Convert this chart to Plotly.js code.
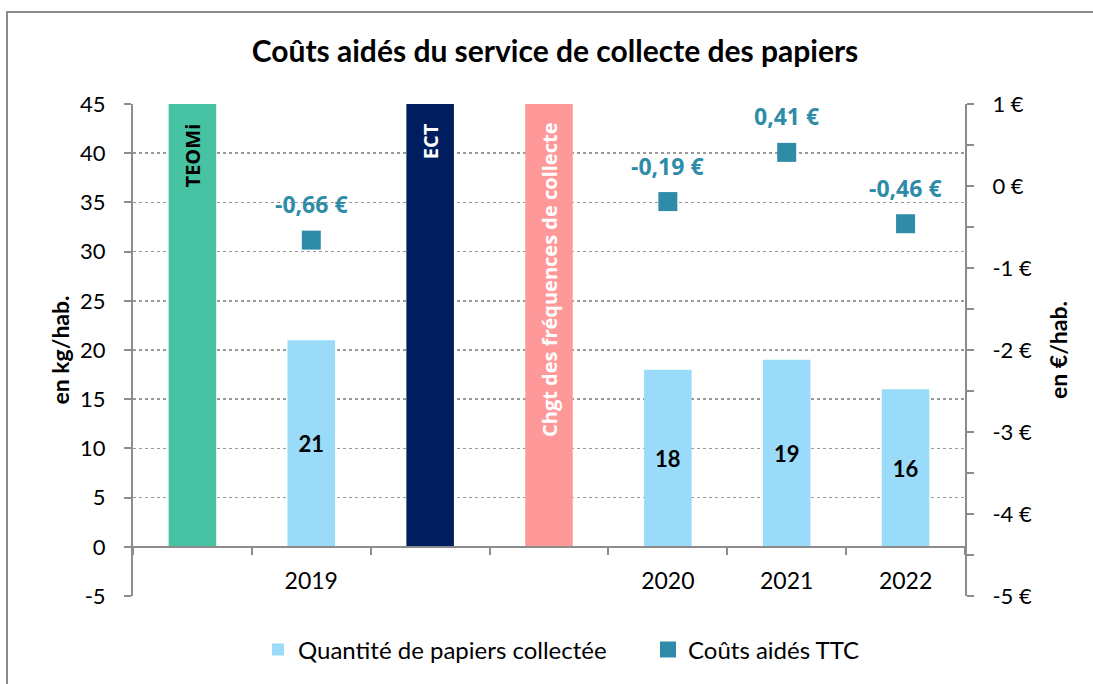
<!DOCTYPE html>
<html>
<head>
<meta charset="utf-8">
<script src="https://cdn.plot.ly/plotly-3.0.1.min.js"></script>
<style>
html,body{margin:0;padding:0;background:#fff;overflow:hidden;}
#wrap{position:relative;width:1093px;height:684px;overflow:hidden;}
#chart{position:absolute;left:0;top:0;width:1093px;height:684px;}
#frameTop{position:absolute;left:6px;top:11px;width:1087px;height:2px;background:#8C8C8C;pointer-events:none;}
#frameLeft{position:absolute;left:6px;top:11px;width:2px;height:673px;background:#8C8C8C;pointer-events:none;}
</style>
</head>
<body>
<div id="wrap">
<div id="chart"></div>
<div id="frameTop"></div>
<div id="frameLeft"></div>
</div>
<script>
// ---- data ----
const slotLabels = ['', '2019', '', '', '2020', '2021', '2022'];
const eventLabels = ['TEOMi', '', 'ECT', 'Chgt des fréquences de collecte', '', '', ''];
const eventHeights = [45, null, 45, 45, null, null, null];
const eventColors = ['#47C3A3', '#47C3A3', '#001E5F', '#FF9999', '#FF9999', '#FF9999', '#FF9999'];
const eventTextColors = ['#000000', '#000000', '#FFFFFF', '#FFFFFF', '#FFFFFF', '#FFFFFF', '#FFFFFF'];
const quantities = [null, 21, null, null, 18, 19, 16];
const costYears = ['2019', '2020', '2021', '2022'];
const costs = [-0.66, -0.19, 0.41, -0.46];
const leftTicks = [-5, 0, 5, 10, 15, 20, 25, 30, 35, 40, 45];
const rightTicks = [-5, -4, -3, -2, -1, 0, 1];

// ---- derived ----
const xs = slotLabels.map((_, i) => i);
const yearTickVals = xs.filter(i => slotLabels[i] !== '');
const yearTickText = yearTickVals.map(i => slotLabels[i]);
const costX = costYears.map(y => slotLabels.indexOf(y));
const fmtEuro = v => v.toFixed(2).replace('.', ',') + ' €';

const W = 1093, H = 684;
const mL = 133, mR = 128, mT = 104, mB = 86;
const pw = W - mL - mR, ph = H - mT - mB;
const px2x = p => (p - mL) / pw;
const px2y = p => (H - mB - p) / ph;

const FONT = 'Lato, "Open Sans", sans-serif';
const teal = '#2E8CA8';
const axisGrey = '#8C8C8C';

const traces = [
  {
    type: 'bar', x: xs, y: eventHeights,
    marker: {color: eventColors}, width: 0.4,
    showlegend: false, hoverinfo: 'skip'
  },
  {
    type: 'bar', x: xs, y: quantities, name: 'Quantité de papiers collectée',
    text: quantities.map(v => v === null ? '' : String(v)),
    marker: {color: '#99DBF8'}, width: 0.4, legend: 'legend',
    textposition: 'inside', insidetextanchor: 'middle', textangle: 0,
    textfont: {family: FONT, size: 22, weight: 700, color: '#000000'}
  },
  {
    type: 'scatter', mode: 'markers', x: costX, y: costs, yaxis: 'y2',
    name: 'Coûts aidés TTC', legend: 'legend2',
    marker: {symbol: 'square', size: 19, color: teal}
  }
];

const costAnnotations = costs.map((v, i) => ({
  x: costX[i], y: v, xref: 'x', yref: 'y2',
  text: fmtEuro(v), showarrow: false, yshift: 36,
  font: {family: '"Open Sans", sans-serif', size: 23, weight: 700, color: teal}
}));

const eventAnnotations = xs.filter(i => eventLabels[i] !== '').map(i => ({
  x: i, y: eventHeights[i], xref: 'x', yref: 'y',
  text: eventLabels[i], showarrow: false, textangle: -90,
  yanchor: 'top', xanchor: 'center', yshift: -17,
  font: {family: '"Open Sans", sans-serif', size: 20, weight: 700, color: eventTextColors[i]}
}));

const legendBase = {
  orientation: 'h', xanchor: 'left', y: px2y(652), yanchor: 'middle',
  font: {family: FONT, size: 24, color: '#000000'}, itemwidth: 30,
  bgcolor: 'rgba(0,0,0,0)'
};

const layout = {
  width: W, height: H,
  margin: {l: mL, r: mR, t: mT, b: mB, pad: 0},
  paper_bgcolor: '#ffffff', plot_bgcolor: '#ffffff',
  font: {family: FONT, color: '#000000'},
  barmode: 'overlay',
  title: {
    text: 'Coûts aidés du service de collecte des papiers',
    font: {family: FONT, size: 30, weight: 700, color: '#000000'},
    xref: 'container', x: 555 / W, xanchor: 'center',
    yref: 'container', y: 1 - 51 / H, yanchor: 'middle'
  },
  xaxis: {
    range: [-0.5, 6.5], anchor: 'free', position: 0.1,
    showline: true, linecolor: axisGrey, linewidth: 2,
    tickmode: 'array', tickvals: yearTickVals, ticktext: yearTickText,
    ticks: '', ticklabelstandoff: 14,
    tickfont: {family: FONT, size: 23, color: '#000000'},
    minor: {tick0: 0.5, dtick: 1, ticks: 'outside', ticklen: 7, tickwidth: 2, tickcolor: axisGrey, showgrid: false},
    showgrid: false, zeroline: false, fixedrange: true
  },
  yaxis: {
    range: [-5, 45], tickmode: 'array', tickvals: leftTicks,
    ticktext: leftTicks.map(v => String(v)),
    showline: true, linecolor: axisGrey, linewidth: 2,
    ticks: 'outside', ticklen: 7, tickwidth: 2, tickcolor: axisGrey,
    ticklabelstandoff: 14,
    tickfont: {family: FONT, size: 22, color: '#000000'},
    showgrid: true, gridcolor: '#999999', gridwidth: 1.5, griddash: 'dot',
    zeroline: false,
    title: {text: 'en kg/hab.', font: {family: FONT, size: 23, weight: 700}, standoff: 4}
  },
  yaxis2: {
    range: [-5, 1], overlaying: 'y', side: 'right', anchor: 'x',
    tickmode: 'array', tickvals: rightTicks, ticktext: rightTicks.map(v => v + ' €'),
    showline: true, linecolor: axisGrey, linewidth: 2,
    ticks: 'outside', ticklen: 7, tickwidth: 2, tickcolor: axisGrey,
    ticklabelstandoff: 14,
    tickfont: {family: FONT, size: 22, color: '#000000'},
    minor: {tick0: 0.5, dtick: 1, ticks: 'outside', ticklen: 7, tickwidth: 2, tickcolor: axisGrey, showgrid: false},
    showgrid: false, zeroline: false,
    title: {text: 'en €/hab.', font: {family: FONT, size: 23, weight: 700}, standoff: 20}
  },
  legend: Object.assign({}, legendBase, {x: px2x(258)}),
  legend2: Object.assign({}, legendBase, {x: px2x(648)}),
  annotations: costAnnotations.concat(eventAnnotations),
  showlegend: true
};

Plotly.newPlot('chart', traces, layout, {displayModeBar: false, staticPlot: true});
</script>
</body>
</html>
